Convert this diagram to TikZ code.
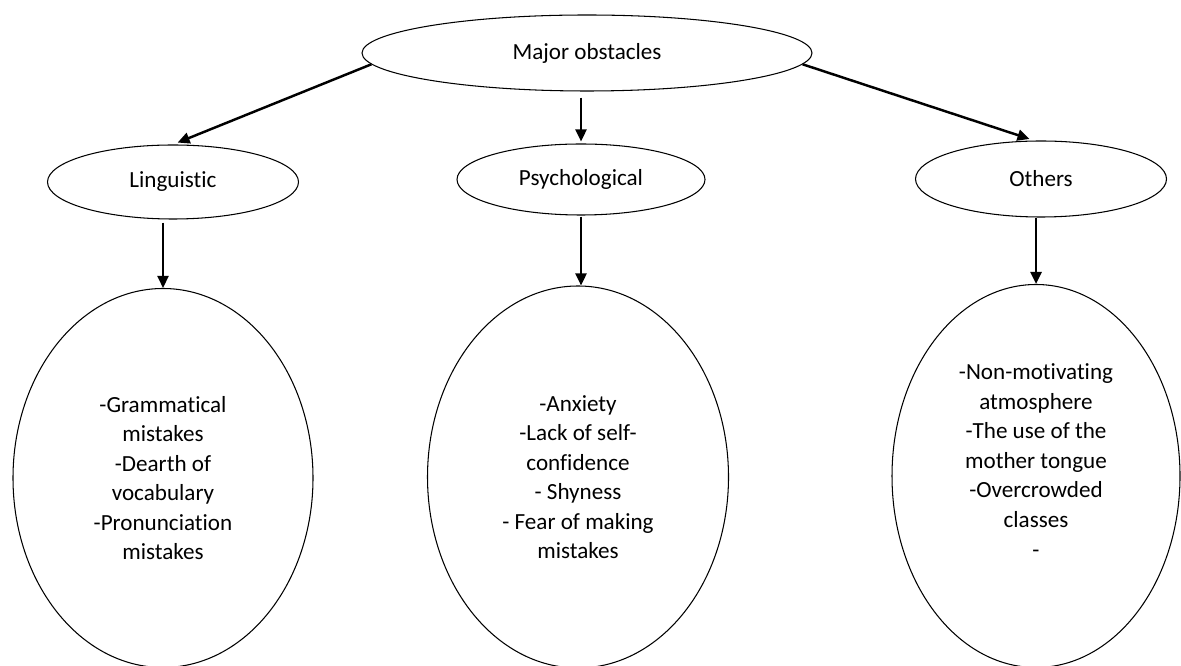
\documentclass[tikz,border=0pt]{standalone}
\usepackage{fontspec}
\setmainfont{Carlito}[Ligatures=NoCommon]
\usetikzlibrary{shapes.geometric,arrows.meta}
\begin{document}
\begin{tikzpicture}[>={Triangle[length=2.4mm,width=2.2mm]},
  oval/.style={draw, ellipse, line width=0.6pt, inner sep=0pt, align=center, font=\fontsize{13.15pt}{16.8pt}\selectfont},
  link/.style={->, line width=1.4pt}]
\useasboundingbox (0,0) rectangle (23.62,-13.32);
\node[oval, minimum width=9cm, minimum height=1.52cm] (top) at (11.74,-1.06) {Major obstacles};
\node[oval, minimum width=5.02cm, minimum height=1.48cm] (ling) at (3.46,-3.64) {Linguistic};
\node[oval, minimum width=4.96cm, minimum height=1.42cm] (psych) at (11.62,-3.59) {Psychological};
\node[oval, minimum width=5.02cm, minimum height=1.52cm] (others) at (20.82,-3.58) {Others};
\node[oval, minimum width=6cm, minimum height=7.58cm] (lingbig) at (3.26,-9.56) {-Grammatical\\mistakes\\-Dearth of\\vocabulary\\-Pronunciation\\mistakes};
\node[oval, minimum width=6.02cm, minimum height=7.64cm] (psychbig) at (11.56,-9.54) {-Anxiety\\-Lack of self-\\confidence\\- Shyness\\- Fear of making\\mistakes};
\node[oval, minimum width=5.76cm, minimum height=7.66cm] (othbig) at (20.72,-9.52) {-Non-motivating\\atmosphere\\-The use of the\\mother tongue\\ -Overcrowded\\classes\\-\rule[-0.62cm]{0pt}{0pt}};
\draw[link, shorten >=1mm] (top.183) -- (ling.north);
\draw[link, shorten <=1.2mm, shorten >=0.4mm] (psych.north |- top.south) -- (psych.north);
\draw[link, shorten >=1mm] (top.357) -- (others.100);
\draw[link, shorten <=0.6mm] (lingbig.north |- ling.south) -- (lingbig.north);
\draw[link, shorten <=0.2mm] (psych.south) -- (psych.south |- psychbig.north);
\draw[link] (othbig.north |- others.south) -- (othbig.north);
\end{tikzpicture}
\end{document}
